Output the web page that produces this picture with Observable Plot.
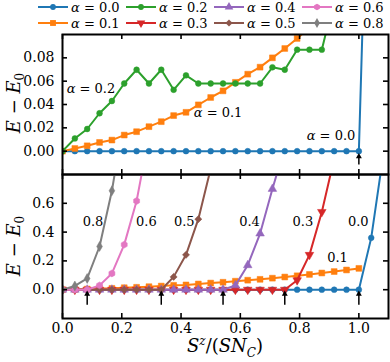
<!DOCTYPE html>
<html>
<head>
<meta charset="utf-8">
<script src="https://cdn.jsdelivr.net/npm/d3@7"></script>
<script src="https://cdn.jsdelivr.net/npm/@observablehq/plot@0.6"></script>
<style>
  body { margin: 0; background: white; }
  #fig { position: relative; width: 390px; height: 362px; background: white; font-family: "DejaVu Serif", serif; overflow: hidden; }
  #fig > div { position: absolute; }
  .lab { white-space: nowrap; font-size: 18px; color: black; }
  .lab i { font-style: italic; }
  .lab sub, .lab sup { font-size: 12px; }
</style>
</head>
<body>
<div id="fig">
  <div id="legend" style="left:0;top:0"></div>
  <div id="topPanel" style="left:0;top:30px"></div>
  <div id="botPanel" style="left:0;top:173px"></div>
  <div class="lab" style="left:15px;top:103px;transform:translate(-50%,-50%) rotate(-90deg)"><i>E</i> − <i>E</i><sub>0</sub></div>
  <div class="lab" style="left:15px;top:246px;transform:translate(-50%,-50%) rotate(-90deg)"><i>E</i> − <i>E</i><sub>0</sub></div>
  <div class="lab" style="left:225px;top:347px;transform:translate(-50%,-50%)"><i>S</i><sup><i>z</i></sup>/(<i>SN</i><sub><i>C</i></sub>)</div>
</div>
<script>
// ---- data ----
const sz = [0, 0.0417, 0.0833, 0.125, 0.1667, 0.2083, 0.25, 0.2917, 0.3333, 0.375, 0.4167, 0.4583, 0.5,
            0.5417, 0.5833, 0.625, 0.6667, 0.7083, 0.75, 0.7917, 0.8333, 0.875, 0.9167, 0.9583, 1.0, 1.0417, 1.0833];
const alphas = ["0.0", "0.1", "0.2", "0.3", "0.4", "0.5", "0.6", "0.8"];
const e00 = [0,0,0,0,0,0,0,0,0,0,0,0,0,0,0,0,0,0,0,0,0,0,0,0,0, 0.36, 0.95];
const e01 = [0, 0.0023, 0.0046, 0.0075, 0.0095, 0.0138, 0.0167, 0.021, 0.0253, 0.0305, 0.0333, 0.0397, 0.046,
             0.0517, 0.059, 0.066, 0.072, 0.080, 0.088, 0.0966, 0.106, 0.116, 0.126, 0.137, 0.148];
const e02 = [0, 0.0109, 0.019, 0.0325, 0.043, 0.058, 0.0698, 0.058, 0.0698, 0.0526, 0.065, 0.058, 0.058,
             0.058, 0.058, 0.058, 0.058, 0.0719, 0.0698, 0.087, 0.087, 0.087, 0.13];
const e03 = [0,0,0,0,0,0,0,0,0,0,0,0,0,0,0,0,0,0,0, 0.066, 0.242, 0.54, 0.91];
const e04 = [0,0,0,0,0,0,0,0,0,0,0,0,0,0, 0.03, 0.17, 0.39, 0.70, 0.99];
const e05 = [0,0,0,0,0,0,0,0,0, 0.089, 0.242, 0.49, 0.84];
const e06 = [0,0,0, 0.03, 0.113, 0.313, 0.616, 1.07];
const e08 = [0, 0.026, 0.078, 0.30, 0.687, 1.2];
const xTicks = [0, 0.2, 0.4, 0.6, 0.8, 1.0];
const topYTicks = [0, 0.02, 0.04, 0.06, 0.08];
const botYTicks = [0, 0.2, 0.4, 0.6];
const topArrowX = [1.0];
const botArrowX = [0.0833, 0.3333, 0.5417, 0.75, 1.0];
const topLabels = [{t: "α = 0.2", x: 0.096, y: 0.0537}, {t: "α = 0.1", x: 0.525, y: 0.0327}, {t: "α = 0.0", x: 0.906, y: 0.013}];
const botLabels = [{t: "0.8", x: 0.103, y: 0.474}, {t: "0.6", x: 0.283, y: 0.474}, {t: "0.5", x: 0.411, y: 0.474},
                   {t: "0.4", x: 0.631, y: 0.474}, {t: "0.3", x: 0.811, y: 0.474}, {t: "0.0", x: 0.998, y: 0.474},
                   {t: "0.1", x: 0.928, y: 0.224}];

// ---- styles ----
const sty = {
  "0.0": {c: "#1f77b4", s: "circle", r: 2.9, rot: 0},
  "0.1": {c: "#ff7f0e", s: "square", r: 3.3, rot: 0},
  "0.2": {c: "#2ca02c", s: "circle", r: 2.9, rot: 0},
  "0.3": {c: "#d62728", s: "triangle", r: 3.2, rot: 180},
  "0.4": {c: "#9467bd", s: "triangle", r: 3.2, rot: 0},
  "0.5": {c: "#8c564b", s: "diamond2", r: 3.2, rot: 0},
  "0.6": {c: "#e377c2", s: "hexagon", r: 3.0, rot: 0},
  "0.8": {c: "#7f7f7f", s: "diamond", r: 3.0, rot: 0}
};
const seriesVals = {"0.0": e00, "0.1": e01, "0.2": e02, "0.3": e03, "0.4": e04, "0.5": e05, "0.6": e06, "0.8": e08};

function seriesMarks(a) {
  const st = sty[a];
  const data = seriesVals[a].map((v, i) => ({x: sz[i], y: v}));
  return [
    Plot.line(data, {x: "x", y: "y", stroke: st.c, strokeWidth: 2, clip: true}),
    Plot.dot(data, {x: "x", y: "y", fill: st.c, stroke: st.c, strokeWidth: 0.5, symbol: st.s, r: st.r, rotate: st.rot, clip: true})
  ];
}
function frameTicks(innerW, innerH, yT) {
  const o = {stroke: "black", strokeWidth: 1.6};
  return [
    Plot.tickY(yT, {y: d => d, insetRight: innerW - 5, ...o}),
    Plot.tickY(yT, {y: d => d, insetLeft: innerW - 5, ...o}),
    Plot.tickX(xTicks, {x: d => d, insetBottom: innerH - 5, ...o}),
    Plot.tickX(xTicks, {x: d => d, insetTop: innerH - 5, ...o})
  ];
}
function italicAlpha(svgNode) {
  d3.select(svgNode).selectAll("text").each(function () {
    const t = this.textContent;
    if (t.startsWith("α")) {
      const sel = d3.select(this);
      sel.text(null);
      sel.append("tspan").attr("font-style", "italic").text("α");
      sel.append("tspan").text(t.slice(1));
    }
  });
}
const W = 390, mL = 62, mR = 2;
const innerW = W - mL - mR;
const baseStyle = {fontFamily: "DejaVu Serif", fontSize: "14px", background: "transparent", overflow: "visible", color: "black"};

// ---- top panel ----
const topInnerH = 140;
const topPlot = Plot.plot({
  width: W, height: topInnerH + 6, marginLeft: mL, marginRight: mR, marginTop: 4, marginBottom: 2,
  x: {domain: [0, 1.1], axis: null},
  y: {domain: [-0.02, 0.1]},
  style: baseStyle,
  marks: [
    ...["0.0", "0.1", "0.2"].flatMap(seriesMarks),
    Plot.ruleX(topArrowX, {x: d => d, y1: -0.0118, y2: -0.005, stroke: "black", strokeWidth: 1.5}),
    Plot.dot(topArrowX, {x: d => d, y: -0.0045, symbol: "triangle", r: 2.2, fill: "black"}),
    Plot.text(topLabels, {x: "x", y: "y", text: "t", fontSize: 13, fill: "black"}),
    Plot.axisY(topYTicks, {tickSize: 0, tickPadding: 8, tickFormat: d3.format(".2f"), label: null, fontSize: 14}),
    Plot.frame({stroke: "black", strokeWidth: 2}),
    ...frameTicks(innerW, topInnerH, topYTicks)
  ]
});
italicAlpha(topPlot);
document.getElementById("topPanel").appendChild(topPlot);

// ---- bottom panel ----
const botInnerH = 144;
const botPlot = Plot.plot({
  width: W, height: botInnerH + 1 + 44, marginLeft: mL, marginRight: mR, marginTop: 1, marginBottom: 44,
  x: {domain: [0, 1.1]},
  y: {domain: [-0.2, 0.8]},
  style: baseStyle,
  marks: [
    ...["0.0", "0.1", "0.3", "0.4", "0.5", "0.6", "0.8"].flatMap(seriesMarks),
    Plot.ruleX(botArrowX, {x: d => d, y1: -0.108, y2: -0.035, stroke: "black", strokeWidth: 1.5}),
    Plot.dot(botArrowX, {x: d => d, y: -0.03, symbol: "triangle", r: 2.2, fill: "black"}),
    Plot.text(botLabels, {x: "x", y: "y", text: "t", fontSize: 13, fill: "black"}),
    Plot.axisY(botYTicks, {tickSize: 0, tickPadding: 8, tickFormat: d3.format(".1f"), label: null, fontSize: 14}),
    Plot.axisX(xTicks, {tickSize: 0, tickPadding: 5, tickFormat: d3.format(".1f"), label: null, fontSize: 14}),
    Plot.frame({stroke: "black", strokeWidth: 2}),
    ...frameTicks(innerW, botInnerH, botYTicks)
  ]
});
document.getElementById("botPanel").appendChild(botPlot);

// ---- legend ----
const legendOrder = [["0.0", "0.2", "0.4", "0.6"], ["0.1", "0.3", "0.5", "0.8"]];
const colX = [38, 126, 214, 302];
const rowY = [7, 23];
function hexPath(r) {
  const R = Math.sqrt(r * r * Math.PI / (1.5 * Math.sqrt(3)));
  const p = d3.range(6).map(k => [R * Math.sin(k * Math.PI / 3), -R * Math.cos(k * Math.PI / 3)]);
  return "M" + p.map(q => q.join(",")).join("L") + "Z";
}
function symPath(s, r) {
  const size = Math.PI * r * r;
  const m = {circle: d3.symbolCircle, square: d3.symbolSquare, triangle: d3.symbolTriangle,
             diamond: d3.symbolDiamond, diamond2: d3.symbolDiamond2};
  if (s === "hexagon") return hexPath(r);
  return d3.symbol(m[s], size)();
}
const lg = d3.create("svg").attr("width", 390).attr("height", 30).style("display", "block");
legendOrder.forEach((row, ri) => row.forEach((a, ci) => {
  const st = sty[a], x0 = colX[ci], y0 = rowY[ri];
  lg.append("line").attr("x1", x0).attr("x2", x0 + 30).attr("y1", y0).attr("y2", y0)
    .attr("stroke", st.c).attr("stroke-width", 2);
  lg.append("path").attr("d", symPath(st.s, st.r))
    .attr("transform", `translate(${x0 + 15},${y0}) rotate(${st.rot})`).attr("fill", st.c);
  lg.append("text").attr("x", x0 + 33).attr("y", y0).attr("dy", "0.35em")
    .attr("font-family", "DejaVu Serif").attr("font-size", 13).attr("fill", "black")
    .text("α = " + a);
}));
italicAlpha(lg.node());
document.getElementById("legend").appendChild(lg.node());
</script>
</body>
</html>
